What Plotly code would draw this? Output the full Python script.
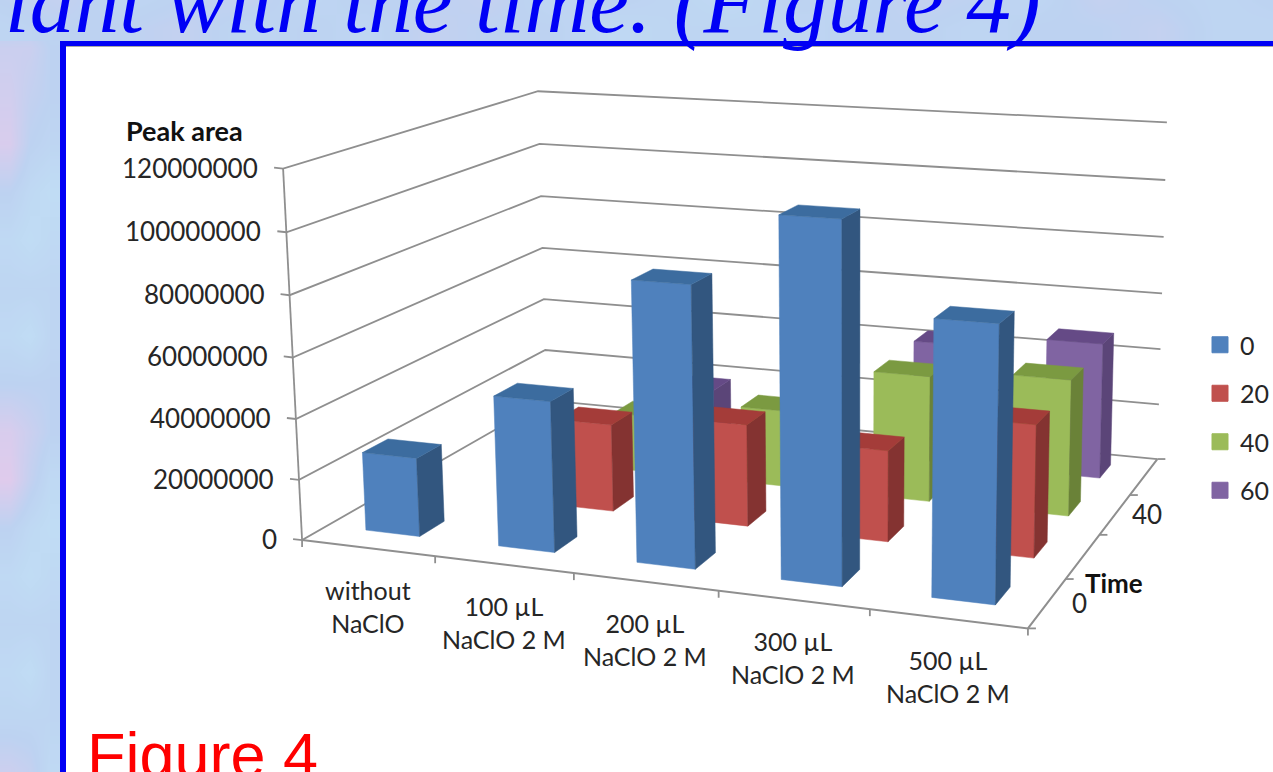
import numpy as np
import plotly.graph_objects as go

# ---- chart data -------------------------------------------------------------
categories = ["without<br>NaClO", "100 µL<br>NaClO 2 M", "200 µL<br>NaClO 2 M",
              "300 µL<br>NaClO 2 M", "500 µL<br>NaClO 2 M"]
time_series = ["0", "20", "40", "60"]
peak_time_0 = [26000000, 49000000, 89500000, 112500000, 85000000]
peak_time_20 = [None, 29500000, 34000000, 30000000, 43000000]
peak_time_40 = [None, 20000000, 26500000, 43000000, 46000000]
peak_time_60 = [None, 18500000, None, 43000000, 47500000]
value_ticks = [0, 20000000, 40000000, 60000000, 80000000, 100000000, 120000000]
value_max = 120000000
depth_labels = {0: "0", 2: "40"}

front_colors = ["#4f81bd", "#c0504d", "#9bbb59", "#8064a2"]
side_colors = ["#32567f", "#843331", "#6a8238", "#5b4578"]
top_colors = ["#3c6c9f", "#a43c39", "#7b9a41", "#654a86"]

# Pale backdrop tints: 0 is sky blue, 1 is pink
left_tint = [[.2, .3, .3], [.7, .7, .5], [.8, .6, .5], [.9, .5, .4], [.5, .3, .2],
             [.3, .2, .3], [.4, .4, .4], [.3, .2, .4], [.5, .5, .5], [.9, .7, .5],
             [1., .6, .3], [.5, .3, .2], [.3, .2, .3], [.4, .4, .4], [.3, .2, .4],
             [.4, .4, .4], [.7, .6, .3]]
top_tint = [[.5, .6, .4, .5, .6, .4, .5, .5, .6, .4, .5, .4, .3, .5, .4, .6, .5, .4, .6, .5, .4, .5],
            [.4, .5, .5, .6, .4, .5, .4, .6, .5, .5, .3, .4, .4, .4, .5, .5, .4, .5, .5, .6, .4, .4]]
tint_scale = [[0, "#c2e3f6"], [.5, "#bdd2f1"], [1, "#dfcbec"]]

# ---- oblique view of the chart box ------------------------------------------
# Box coordinates: category slot, time slot, value / value_max
box_corners = [(0, 0, 0), (5, 0, 0), (5, 4, 0), (0, 4, 0), (0, 0, 1), (0, 4, 1), (5, 4, 1)]
page_corners = [(303, 541), (1027, 629), (1158, 458), (546, 400), (283, 167), (538, 92), (1167, 123)]


def solve_view(box, page):
    rows, rhs = [], []
    for (a, b, c), (u, v) in zip(box, page):
        rows.append([a, b, c, 1, 0, 0, 0, 0, -u * a, -u * b, -u * c])
        rows.append([0, 0, 0, 0, a, b, c, 1, -v * a, -v * b, -v * c])
        rhs += [u, v]
    m = np.linalg.lstsq(np.array(rows, float), np.array(rhs, float), rcond=None)[0]
    return np.append(m, 1).reshape(3, 4)


VIEW = solve_view(box_corners, page_corners)


def project(slot, row, value):
    p = VIEW @ np.array([slot, row, value / value_max, 1.0])
    return float(p[0] / p[2]), float(p[1] / p[2])


fig = go.Figure()

# ---- backdrop and frame -----------------------------------------------------
fig.add_trace(go.Heatmap(z=left_tint, x0=10, dx=20, y0=0, dy=48, zmin=0, zmax=1, zsmooth="best",
                         colorscale=tint_scale, showscale=False, hoverinfo="skip"))
fig.add_trace(go.Heatmap(z=top_tint, x0=0, dx=61, y0=0, dy=27, zmin=0, zmax=1, zsmooth="best",
                         colorscale=tint_scale, showscale=False, hoverinfo="skip"))
shapes = [dict(type="rect", xref="x", yref="y", x0=63, y0=43, x1=1320, y1=820, layer="below",
               fillcolor="white", line=dict(color="#0000f5", width=6)),
          dict(type="line", xref="x", yref="y", x0=66, y0=46.5, x1=1273, y1=46.5, layer="below",
               line=dict(color="#a8a8a8", width=1))]


def add_line(points, width=1.8, color="#8f8f8f"):
    fig.add_trace(go.Scatter(x=[p[0] for p in points], y=[p[1] for p in points], mode="lines",
                             line=dict(color=color, width=width), hoverinfo="skip", showlegend=False))


# ---- walls, floor and ticks -------------------------------------------------
for v in value_ticks:
    left = project(0, 0, v)
    add_line([(left[0] - 9, left[1] - 1), left, project(0, 4, v), project(5, 4, v)])
add_line([project(0, 0, 0), project(0, 0, value_max)])
add_line([project(0, 0, 0), project(5, 0, 0), project(5, 4, 0)], width=2)
for c in range(0, 6):
    p = project(c, 0, 0)
    add_line([p, (p[0], p[1] + 7)])
for r in range(0, 5):
    p = project(5, r, 0)
    add_line([p, (p[0] + 8, p[1])])


# ---- bars, painted from the back row forward --------------------------------
def add_face(points, color):
    xs = [p[0] for p in points] + [points[0][0]]
    ys = [p[1] for p in points] + [points[0][1]]
    fig.add_trace(go.Scatter(x=xs, y=ys, mode="lines", fill="toself", fillcolor=color,
                             line=dict(color=color, width=0.5), hoverinfo="skip", showlegend=False))


series = [peak_time_0, peak_time_20, peak_time_40, peak_time_60]
for r in range(len(series) - 1, -1, -1):
    for c, v in enumerate(series[r]):
        if v is None:
            continue
        x0, x1, y0, y1 = c + .297, c + .707, r + .35, r + .72
        add_face([project(x0, y0, 0), project(x1, y0, 0), project(x1, y0, v), project(x0, y0, v)], front_colors[r])
        add_face([project(x1, y0, 0), project(x1, y1, 0), project(x1, y1, v), project(x1, y0, v)], side_colors[r])
        add_face([project(x0, y0, v), project(x1, y0, v), project(x1, y1, v), project(x0, y1, v)], top_colors[r])

# ---- legend -----------------------------------------------------------------
for name, color in zip(time_series, front_colors):
    fig.add_trace(go.Scatter(x=[None], y=[None], mode="markers", name=name, legendgroup=name,
                             marker=dict(symbol="square", size=16, color=color, line=dict(color=color, width=1))))

# ---- text -------------------------------------------------------------------
FONT = "Lato"
TEXT = "#262626"
notes = []
for v in value_ticks:
    p = project(0, 0, v)
    notes.append(dict(x=p[0] - 24, y=p[1] - 1, text=str(v), xanchor="right", yanchor="middle",
                      font=dict(family=FONT, size=26, color=TEXT)))
for c, label in enumerate(categories):
    p = project(c + .5, 0, 0)
    notes.append(dict(x=p[0], y=p[1] + 58, text=label, xanchor="center", yanchor="middle",
                      font=dict(family=FONT, size=25, color=TEXT)))
for r, label in depth_labels.items():
    p = project(5, r + .5, 0)
    notes.append(dict(x=p[0] + 32, y=p[1], text=label, xanchor="center", yanchor="middle",
                      font=dict(family=FONT, size=26, color=TEXT)))
notes.append(dict(x=125, y=130, text="<b>Peak area</b>", xanchor="left", yanchor="middle",
                  font=dict(family=FONT, size=27, color="#111111")))
notes.append(dict(x=1114, y=583, text="<b>Time</b>", xanchor="center", yanchor="middle",
                  font=dict(family=FONT, size=26, color="#111111")))
notes.append(dict(x=4, y=52, text="<i>lant with the time. (Figure 4)</i>", xanchor="left", yanchor="bottom",
                  font=dict(family="Liberation Serif", size=89.5, color="#0000f5")))
notes.append(dict(x=86, y=755, text="Figure 4", xanchor="left", yanchor="middle",
                  font=dict(family="Liberation Sans", size=63, color="#ff0000")))
for n in notes:
    n.update(xref="x", yref="y", showarrow=False, borderpad=0)

fig.update_layout(
    width=1273, height=772, autosize=False,
    margin=dict(l=0, r=0, t=0, b=0, autoexpand=False),
    paper_bgcolor="#bfd3f1", plot_bgcolor="rgba(0,0,0,0)",
    xaxis=dict(range=[0, 1273], visible=False, fixedrange=True),
    yaxis=dict(range=[772, 0], visible=False, fixedrange=True),
    shapes=shapes, annotations=notes,
    legend=dict(x=1200 / 1273, y=1 - 322 / 772, xanchor="left", yanchor="top", bgcolor="rgba(0,0,0,0)",
                font=dict(family=FONT, size=25, color=TEXT), tracegroupgap=13, itemwidth=30),
)
fig.write_html("out.html")
